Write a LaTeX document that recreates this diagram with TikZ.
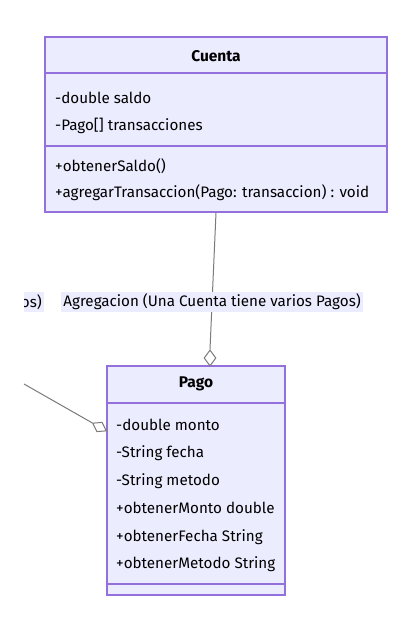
\documentclass[tikz,border=0pt]{standalone}
\usepackage{fontspec}
\setmainfont{Fira Sans}
\usetikzlibrary{positioning, shapes.geometric}
\definecolor{boxfill}{HTML}{ECECFF}
\definecolor{boxline}{HTML}{9370DB}
\definecolor{linkgray}{HTML}{7A7A7A}

\begin{document}
\begin{tikzpicture}[x=1pt,y=-1pt,
    box/.style={draw=boxline, fill=boxfill, line width=1.2pt, inner sep=0},
    member/.style={anchor=west, inner sep=0, font=\fontsize{15.2}{17}\selectfont},
    classname/.style={inner sep=0, font=\bfseries\fontsize{15.5}{17}\selectfont},
    aggr/.style={diamond, draw=linkgray, fill=white, line width=1pt, inner sep=0},
    link/.style={draw=linkgray, line width=1pt},
    tag/.style={fill=boxfill, inner sep=2pt, font=\fontsize{15.2}{17}\selectfont}]
\useasboundingbox (0,0) rectangle (406,619);
% class Cuenta
   \node[box, minimum width=342pt, minimum height=175pt] (cuenta) at (216,124.5) {};
   \draw[boxline, line width=1.2pt] (45,73) -- (387,73);
   \draw[boxline, line width=1.2pt] (45,146) -- (387,146);
    \node[classname] (cname) at (216,56) {Cuenta};
    \node[member] (saldo) at (55,98) {-double saldo};
    \node[member] (trans) at (55,126) {-Pago[] transacciones};
    \node[member] (getsaldo) at (55,166) {+obtenerSaldo()};
    \node[member] (addtrans) at (55,193) {+agregarTransaccion(Pago: transaccion) : void};
% class Pago
   \node[box, minimum width=178pt, minimum height=229pt] (pago) at (196,480.5) {};
   \draw[boxline, line width=1.2pt] (107,403) -- (285,403);
   \draw[boxline, line width=1.2pt] (107,584) -- (285,584);
    \node[classname] (pname) at (196,384) {Pago};
    \node[member] (monto) at (116,425) {-double monto};
    \node[member] (fecha) at (116,453) {-String fecha};
    \node[member] (metodo) at (116,481) {-String metodo};
    \node[member] (getmonto) at (116,508) {+obtenerMonto double};
    \node[member] (getfecha) at (116,537) {+obtenerFecha String};
    \node[member] (getmetodo) at (116,564) {+obtenerMetodo String};
% aggregations
   \node[aggr, minimum width=12pt, minimum height=16pt] (aggtop) at (210,358) {};
   \node[aggr, minimum width=16pt, minimum height=11pt, rotate=-29.5] (aggleft) at (99.5,427) {};
   \coordinate (free) at (24,384);
\draw[link] (cuenta.south) -- (aggtop.north) node [pos=0.65, tag] {Agregacion (Una Cuenta tiene varios Pagos)};
\draw[link] (free) -- (aggleft.west);
\begin{scope}
   \clip (24,280) rectangle (60,320);
   \node[tag, anchor=east] (cut) at (44,302) {os)};
\end{scope}
\end{tikzpicture}
\end{document}
